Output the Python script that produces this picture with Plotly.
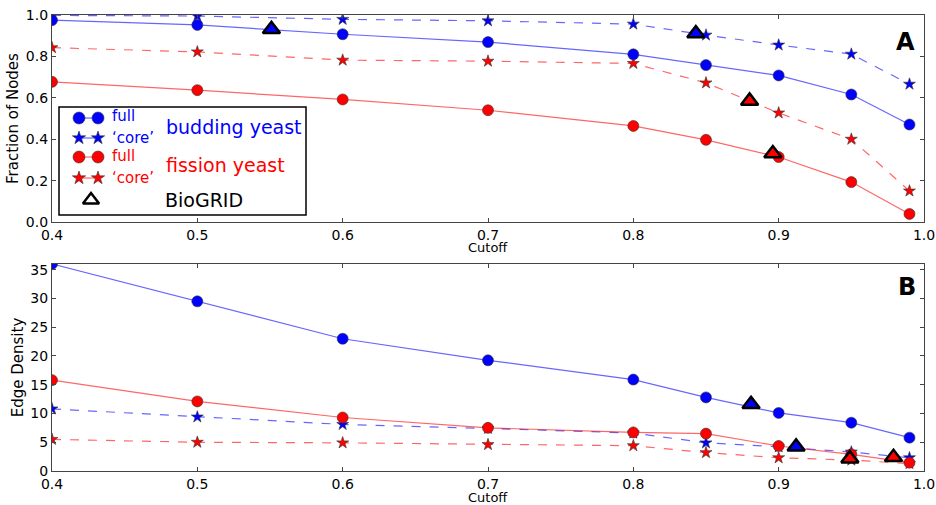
import plotly.graph_objects as go

cutoff = [0.4, 0.5, 0.6, 0.7, 0.8, 0.85, 0.9, 0.95, 0.99]

# Panel A: fraction of nodes
frac_bud_full = [0.975, 0.952, 0.907, 0.869, 0.810, 0.758, 0.708, 0.616, 0.471]
frac_bud_core = [0.998, 0.995, 0.979, 0.972, 0.956, 0.903, 0.855, 0.811, 0.666]
frac_fis_full = [0.677, 0.637, 0.592, 0.540, 0.464, 0.397, 0.314, 0.193, 0.039]
frac_fis_core = [0.842, 0.822, 0.782, 0.777, 0.766, 0.672, 0.527, 0.400, 0.150]
bio_frac_bud_x = [0.551, 0.843]
bio_frac_bud_y = [0.931, 0.911]
bio_frac_fis_x = [0.880, 0.896]
bio_frac_fis_y = [0.585, 0.331]

# Panel B: edge density
dens_bud_full = [36.0, 29.5, 23.0, 19.25, 15.9, 12.8, 10.1, 8.4, 5.8]
dens_bud_core = [10.8, 9.4, 8.1, 7.4, 6.6, 4.9, 4.2, 3.3, 2.3]
dens_fis_full = [15.8, 12.1, 9.3, 7.5, 6.7, 6.5, 4.35, 2.9, 1.45]
dens_fis_core = [5.5, 5.0, 4.9, 4.6, 4.4, 3.2, 2.3, 1.9, 1.3]
bio_dens_bud_x = [0.881, 0.912]
bio_dens_bud_y = [11.6, 4.2]
bio_dens_fis_x = [0.949, 0.979]
bio_dens_fis_y = [2.15, 2.4]

x_ticks = [0.4, 0.5, 0.6, 0.7, 0.8, 0.9, 1.0]
x_ticktext = ["0.4", "0.5", "0.6", "0.7", "0.8", "0.9", "1.0"]
ya_ticks = [0.0, 0.2, 0.4, 0.6, 0.8, 1.0]
ya_ticktext = ["0.0", "0.2", "0.4", "0.6", "0.8", "1.0"]
yb_ticks = [0, 5, 10, 15, 20, 25, 30, 35]

BLUE = "#0000ff"
RED = "#ff0000"
BLUE_L = "rgba(0,0,255,0.6)"
RED_L = "rgba(255,0,0,0.6)"
EDGE = "#333333"
FONT = "DejaVu Sans"
STAR = 9
CIRC = 11

fig = go.Figure()


def series(x, y, xa, ya, lc, mc, dash, symbol, size):
    fig.add_trace(go.Scatter(
        x=x, y=y, xaxis=xa, yaxis=ya, mode="lines+markers",
        line=dict(color=lc, width=1.2, dash=dash),
        marker=dict(symbol=symbol, size=size, color=mc,
                    line=dict(color=EDGE, width=0.6)),
        showlegend=False, hoverinfo="skip"))


def tri(x, y, xa, ya, fill):
    fig.add_trace(go.Scatter(
        x=x, y=y, xaxis=xa, yaxis=ya, mode="markers",
        marker=dict(symbol="triangle-up", size=15, color=fill,
                    line=dict(color="black", width=2.5)),
        showlegend=False, hoverinfo="skip"))


# Panel A
series(cutoff, frac_bud_core, "x", "y", BLUE_L, BLUE, "dash", "star", STAR)
series(cutoff, frac_fis_core, "x", "y", RED_L, RED, "dash", "star", STAR)
series(cutoff, frac_bud_full, "x", "y", BLUE_L, BLUE, "solid", "circle", CIRC)
series(cutoff, frac_fis_full, "x", "y", RED_L, RED, "solid", "circle", CIRC)
tri(bio_frac_bud_x, bio_frac_bud_y, "x", "y", BLUE)
tri(bio_frac_fis_x, bio_frac_fis_y, "x", "y", RED)

# Panel B
series(cutoff, dens_bud_core, "x2", "y2", BLUE_L, BLUE, "dash", "star", STAR)
series(cutoff, dens_fis_core, "x2", "y2", RED_L, RED, "dash", "star", STAR)
series(cutoff, dens_bud_full, "x2", "y2", BLUE_L, BLUE, "solid", "circle", CIRC)
series(cutoff, dens_fis_full, "x2", "y2", RED_L, RED, "solid", "circle", CIRC)
tri(bio_dens_bud_x, bio_dens_bud_y, "x2", "y2", BLUE)
tri(bio_dens_fis_x, bio_dens_fis_y, "x2", "y2", RED)

# Custom legend drawn on an invisible overlay axis in pixel units of panel A
leg_pairs = [
    (118, "circle", BLUE, BLUE_L, 12),
    (138, "star", BLUE, BLUE_L, 10),
    (157, "circle", RED, RED_L, 12),
    (178, "star", RED, RED_L, 10),
]
for yy, sym, mc, lc, sz in leg_pairs:
    fig.add_trace(go.Scatter(
        x=[79, 98], y=[yy, yy], xaxis="x3", yaxis="y3", mode="lines+markers",
        line=dict(color=lc, width=1.2),
        marker=dict(symbol=sym, size=sz, color=mc, line=dict(color=EDGE, width=0.6)),
        showlegend=False, hoverinfo="skip", cliponaxis=False))
fig.add_trace(go.Scatter(
    x=[91], y=[200], xaxis="x3", yaxis="y3", mode="markers",
    marker=dict(symbol="triangle-up-open", size=14, color="black",
                line=dict(color="black", width=2.5)),
    showlegend=False, hoverinfo="skip", cliponaxis=False))

axis_common = dict(
    showline=True, mirror="ticks", linecolor="#444444", linewidth=1.2,
    ticks="inside", ticklen=4, tickcolor="#444444", showgrid=False, zeroline=False,
    tickfont=dict(family=FONT, size=14, color="black"), automargin=False,
)

fig.update_layout(
    width=936, height=505,
    margin=dict(l=52, r=12, t=15, b=34, autoexpand=False),
    paper_bgcolor="white", plot_bgcolor="white",
    font=dict(family=FONT, color="black"),
    xaxis=dict(domain=[0, 1], anchor="y", range=[0.4, 1.0], tickvals=x_ticks,
               ticktext=x_ticktext, **axis_common),
    yaxis=dict(domain=[0.546, 1], anchor="x", range=[0, 1.0], tickvals=ya_ticks,
               ticktext=ya_ticktext,
               title=dict(text="Fraction of Nodes", font=dict(size=15), standoff=3),
               **axis_common),
    xaxis2=dict(domain=[0, 1], anchor="y2", range=[0.4, 1.0], tickvals=x_ticks,
                ticktext=x_ticktext, **axis_common),
    yaxis2=dict(domain=[0, 0.454], anchor="x2", range=[0, 36], tickvals=yb_ticks,
                title=dict(text="Edge Density", font=dict(size=15), standoff=3),
                **axis_common),
    xaxis3=dict(overlaying="x", anchor="y3", range=[52, 924], visible=False),
    yaxis3=dict(overlaying="y", anchor="x3", range=[222, 15], visible=False),
    shapes=[dict(type="rect", xref="x3", yref="y3", x0=59, x1=306, y0=107, y1=215,
                 line=dict(color="black", width=1.5), fillcolor="white", layer="below")],
    annotations=[
        dict(text="Cutoff", x=0.5, y=0.491, xref="paper", yref="paper",
             xanchor="center", yanchor="middle", showarrow=False,
             font=dict(size=13, color="black")),
        dict(text="Cutoff", x=0.5, y=-0.058, xref="paper", yref="paper",
             xanchor="center", yanchor="middle", showarrow=False,
             font=dict(size=13, color="black")),
        dict(text="<b>A</b>", x=0.992, y=0.941, xref="paper", yref="paper",
             xanchor="right", yanchor="middle", showarrow=False,
             font=dict(size=24, color="black")),
        dict(text="<b>B</b>", x=0.9935, y=0.404, xref="paper", yref="paper",
             xanchor="right", yanchor="middle", showarrow=False,
             font=dict(size=24, color="black")),
        dict(text="full", x=110, y=116, xref="x3", yref="y3", xanchor="left",
             showarrow=False, font=dict(size=15, color=BLUE)),
        dict(text="\u2018core\u2019", x=110, y=138, xref="x3", yref="y3", xanchor="left",
             showarrow=False, font=dict(size=15, color=BLUE)),
        dict(text="full", x=110, y=156, xref="x3", yref="y3", xanchor="left",
             showarrow=False, font=dict(size=15, color=RED)),
        dict(text="\u2018core\u2019", x=110, y=178, xref="x3", yref="y3", xanchor="left",
             showarrow=False, font=dict(size=15, color=RED)),
        dict(text="budding yeast", x=164, y=127, xref="x3", yref="y3", xanchor="left",
             showarrow=False, font=dict(size=19, color=BLUE)),
        dict(text="fission yeast", x=164, y=165, xref="x3", yref="y3", xanchor="left",
             showarrow=False, font=dict(size=19, color=RED)),
        dict(text="BioGRID", x=163, y=200, xref="x3", yref="y3", xanchor="left",
             showarrow=False, font=dict(size=19, color="black")),
    ],
)

# remove the default 8px page margin so the figure sits at the window's corner
fig.write_html("out.html", config={"displayModeBar": False},
               post_script="document.body.style.margin='0';")
